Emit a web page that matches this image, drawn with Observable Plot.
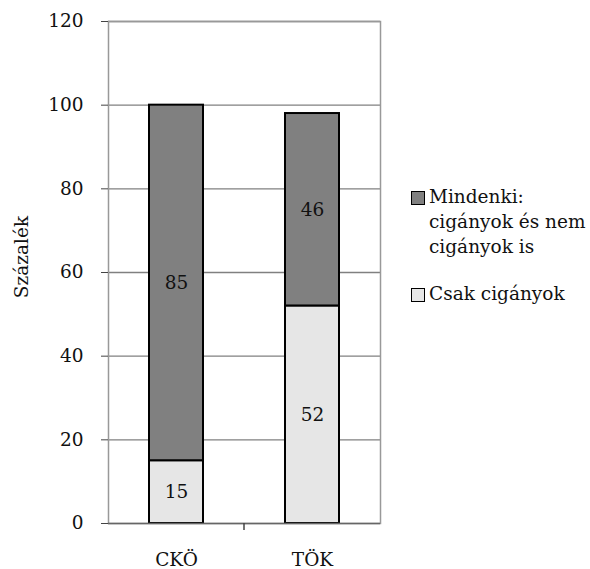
<!DOCTYPE html>
<html>
<head>
<meta charset="utf-8">
<script src="https://cdn.jsdelivr.net/npm/d3@7"></script>
<script src="https://cdn.jsdelivr.net/npm/@observablehq/plot@0.6"></script>
<style>
  body { margin: 0; background: #fff; }
  #wrap { position: relative; width: 590px; height: 569px; font-family: "DejaVu Serif", serif; }
  #wrap svg text, #wrap svg { font-family: "DejaVu Serif", serif !important; }
  #legend { position: absolute; left: 411px; top: 184px; font-size: 18.5px; line-height: 25px; color: #111; }
  .item { display: flex; align-items: flex-start; }
  .sw { width: 12px; height: 12px; border: 1px solid #000; margin-top: 7px; margin-right: 4px; flex: none; }
</style>
</head>
<body>
<div id="wrap"><div id="legend"></div></div>
<script>
const categories = ["CKÖ", "TÖK"];
const seriesNames = ["Csak cigányok", "Mindenki: cigányok és nem cigányok is"];
const csak = [15, 52];
const mindenki = [85, 46];
const yTicks = [0, 20, 40, 60, 80, 100, 120];
const colors = ["#e6e6e6", "#808080"];

const data = [];
categories.forEach((c, i) => {
  data.push({cat: c, series: seriesNames[0], value: csak[i]});
  data.push({cat: c, series: seriesNames[1], value: mindenki[i]});
});

const FS = 18.5;
const chart = Plot.plot({
  width: 590,
  height: 569,
  marginTop: 21,
  marginBottom: 46,
  marginLeft: 108,
  marginRight: 210,
  style: {fontFamily: "DejaVu Serif, serif", fontSize: FS + "px", color: "#111", background: "#fff"},
  x: {domain: categories, paddingInner: 0.6, paddingOuter: 0.3, label: null},
  y: {domain: [0, 120], label: null},
  color: {domain: seriesNames, range: colors},
  marks: [
    Plot.gridY(yTicks.filter(d => d > 0), {stroke: "#808080", strokeOpacity: 1, strokeWidth: 1.3}),
    Plot.frame({stroke: "#999", strokeWidth: 1.5}),
    Plot.barY(data, Plot.stackY({x: "cat", y: "value", fill: "series", z: "series", order: seriesNames, stroke: "#000", strokeWidth: 2})),
    Plot.text(data, Plot.stackY({x: "cat", y: "value", z: "series", text: d => String(d.value), order: seriesNames, fill: "#111", fontSize: FS})),
    Plot.ruleX([0], {stroke: "#666", strokeWidth: 1.5}),
    Plot.axisY({ticks: yTicks, tickSize: 7, tickPadding: 18, stroke: "#444", fontSize: FS, label: null}),
    Plot.axisX({tickSize: 0, tickPadding: 29, fontSize: FS, label: null}),
    Plot.ruleY([0], {stroke: "#666", strokeWidth: 1.5})
  ]
});
const wrap = document.getElementById("wrap");
wrap.insertBefore(chart, wrap.firstChild);

// category boundary tick on x axis
const svg = d3.select(chart);
const xs = chart.scale("x");
const ys = chart.scale("y");
const mid = (xs.apply(categories[0]) + xs.apply(categories[1]) + xs.bandwidth) / 2;
svg.append("line").attr("x1", mid).attr("x2", mid).attr("y1", ys.apply(0)).attr("y2", ys.apply(0) + 7).attr("stroke", "#444").attr("stroke-width", 1.5);

// y axis title
svg.append("text").attr("transform", `translate(28,257) rotate(-90)`)
  .attr("text-anchor", "middle").attr("font-size", FS).attr("fill", "#111").text("Százalék");

const legendItems = [
  {lines: ["Mindenki:", "cigányok és nem", "cigányok is"], color: colors[1]},
  {lines: ["Csak cigányok"], color: colors[0]}
];
const leg = document.getElementById("legend");
legendItems.forEach((it, i) => {
  const div = document.createElement("div");
  div.className = "item";
  if (i > 0) div.style.marginTop = "22px";
  const sw = document.createElement("div");
  sw.className = "sw";
  sw.style.background = it.color;
  const t = document.createElement("div");
  t.innerHTML = it.lines.join("<br>");
  div.appendChild(sw); div.appendChild(t);
  leg.appendChild(div);
});
</script>
</body>
</html>
